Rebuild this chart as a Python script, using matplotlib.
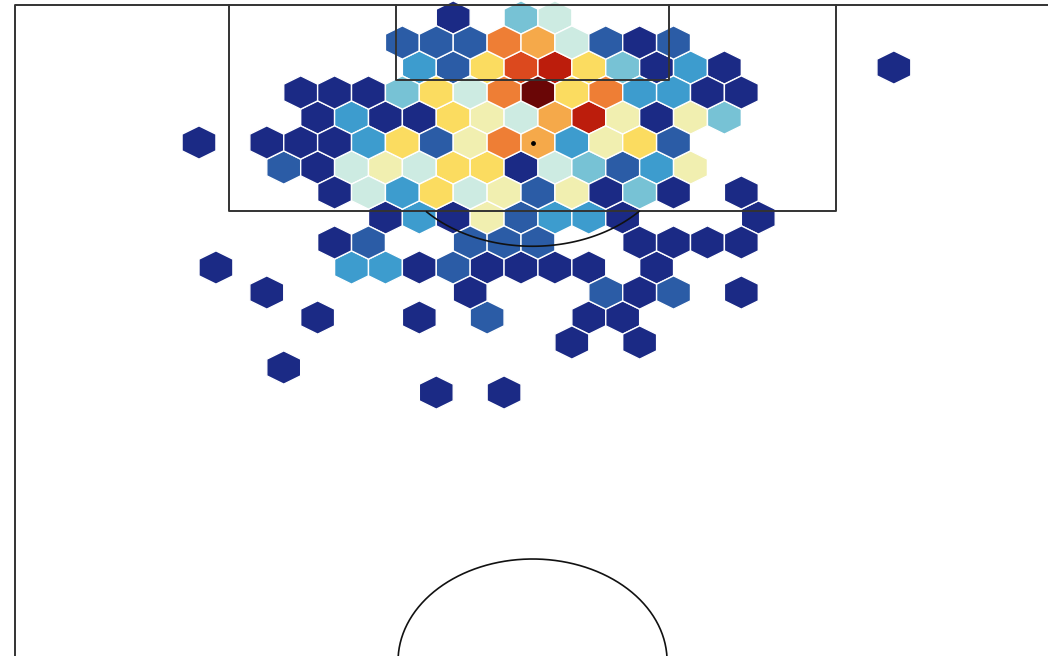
import numpy as np
import matplotlib
matplotlib.use('Agg')
import matplotlib.pyplot as plt
from matplotlib.colors import LinearSegmentedColormap

# shot locations (metres across pitch, metres from goal line) and shots per spot
shot_x = [28.8, 33.3, 35.5,
          25.5, 27.7, 30.0, 32.2, 34.4, 36.6, 38.9, 41.1, 43.3,
          26.6, 28.8, 31.1, 33.3, 35.5, 37.8, 40.0, 42.2, 44.4, 46.7, 57.8,
          18.8, 21.0, 23.3, 25.5, 27.7, 30.0, 32.2, 34.4, 36.6, 38.9, 41.1, 43.3, 45.6, 47.8,
          19.9, 22.1, 24.4, 26.6, 28.8, 31.1, 33.3, 35.5, 37.8, 40.0, 42.2, 44.4, 46.7,
          12.1, 16.6, 18.8, 21.0, 23.3, 25.5, 27.7, 30.0, 32.2, 34.4, 36.6, 38.9, 41.1, 43.3,
          17.7, 19.9, 22.1, 24.4, 26.6, 28.8, 31.1, 33.3, 35.5, 37.8, 40.0, 42.2, 44.4,
          21.0, 23.3, 25.5, 27.7, 30.0, 32.2, 34.4, 36.6, 38.9, 41.1, 43.3, 47.8,
          24.4, 26.6, 28.8, 31.1, 33.3, 35.5, 37.8, 40.0, 48.9,
          21.0, 23.3, 30.0, 32.2, 34.4, 41.1, 43.3, 45.6, 47.8,
          13.2, 22.1, 24.4, 26.6, 28.8, 31.1, 33.3, 35.5, 37.8, 42.2,
          16.6, 30.0, 38.9, 41.1, 43.3, 47.8,
          19.9, 26.6, 31.1, 37.8, 40.0,
          36.6, 41.1,
          17.7,
          27.7, 32.2]
shot_y = [1, 1, 1,
          3, 3, 3, 3, 3, 3, 3, 3, 3,
          5, 5, 5, 5, 5, 5, 5, 5, 5, 5, 5,
          7, 7, 7, 7, 7, 7, 7, 7, 7, 7, 7, 7, 7, 7,
          9, 9, 9, 9, 9, 9, 9, 9, 9, 9, 9, 9, 9,
          11, 11, 11, 11, 11, 11, 11, 11, 11, 11, 11, 11, 11, 11,
          13, 13, 13, 13, 13, 13, 13, 13, 13, 13, 13, 13, 13,
          15, 15, 15, 15, 15, 15, 15, 15, 15, 15, 15, 15,
          17, 17, 17, 17, 17, 17, 17, 17, 17,
          19, 19, 19, 19, 19, 19, 19, 19, 19,
          21, 21, 21, 21, 21, 21, 21, 21, 21, 21,
          23, 23, 23, 23, 23, 23,
          25, 25, 25, 25, 25,
          27, 27,
          29,
          31, 31]
shot_n = [1, 4, 5,
          2, 2, 2, 9, 8, 5, 2, 1, 2,
          3, 2, 7, 10, 11, 7, 4, 1, 3, 1, 1,
          1, 1, 1, 4, 7, 5, 9, 12, 7, 9, 3, 3, 1, 1,
          1, 3, 1, 1, 7, 6, 5, 8, 11, 6, 1, 6, 4,
          1, 1, 1, 1, 3, 7, 2, 6, 9, 8, 3, 6, 7, 2,
          2, 1, 5, 6, 5, 7, 7, 1, 5, 4, 2, 3, 6,
          1, 5, 3, 7, 5, 6, 2, 6, 1, 4, 1, 1,
          1, 3, 1, 6, 2, 3, 3, 1, 1,
          1, 2, 2, 2, 2, 1, 1, 1, 1,
          1, 3, 3, 1, 2, 1, 1, 1, 1, 1,
          1, 1, 2, 1, 2, 1,
          1, 1, 2, 1, 1,
          1, 1,
          1,
          1, 1]

colors = ['#1b2a85', '#2b5ca6', '#3d9dcf', '#78c3d5', '#cdebe3', '#f1efb0',
          '#fbdc60', '#f5a84a', '#ee7f36', '#dc4a1e', '#bd1d0c', '#6a0606']
cmap = LinearSegmentedColormap.from_list('shots', colors)

line_c = '#333333'
lw = 1.4

fig = plt.figure(figsize=(10.48, 6.56), dpi=100)
ax = fig.add_axes([0, 0, 1, 1])
ax.axis('off')

#hexbin
ax.hexbin(shot_x, shot_y, C=shot_n, reduce_C_function=np.sum,
          gridsize=(31, 13), extent=(-0.16, 68.97, 1.0, 53.0),
          cmap=cmap, vmin=1, vmax=12, edgecolors='white', linewidths=1.0,
          zorder=1)

#pitch outline
ax.plot([0, 0, 68, 68], [52.5, 0, 0, 52.5], color=line_c, lw=lw, zorder=3)

#penalty box
ax.plot([14.1, 14.1, 54.0, 54.0], [0, 16.48, 16.48, 0], color=line_c, lw=lw, zorder=3)

#six yard box
ax.plot([25.07, 25.07, 43.03, 43.03], [0, 6.0, 6.0, 0], color=line_c, lw=lw, zorder=3)

#penalty spot
ax.scatter([34.05], [11.0], s=6, color='black', zorder=4)

#penalty arc (outside the box only)
t = np.linspace(0, 2 * np.pi, 400)
arc_x = 34.05 + 9.37 * np.cos(t)
arc_y = 11.0 + 8.30 * np.sin(t)
keep = arc_y > 16.48
order = np.argsort(arc_x[keep])
ax.plot(arc_x[keep][order], arc_y[keep][order], color='#111111', lw=1.2, zorder=3)

#centre circle
circ_x = 34.05 + 8.85 * np.cos(t)
circ_y = 52.5 + 8.18 * np.sin(t)
ax.plot(circ_x, circ_y, color='#111111', lw=1.2, zorder=3)
ax.scatter([34.05], [52.5], s=6, color='black', zorder=4)

ax.set_xlim(-0.987, 67.96)
ax.set_ylim(52.08, -0.4)

fig.savefig('out.png', dpi=100)
